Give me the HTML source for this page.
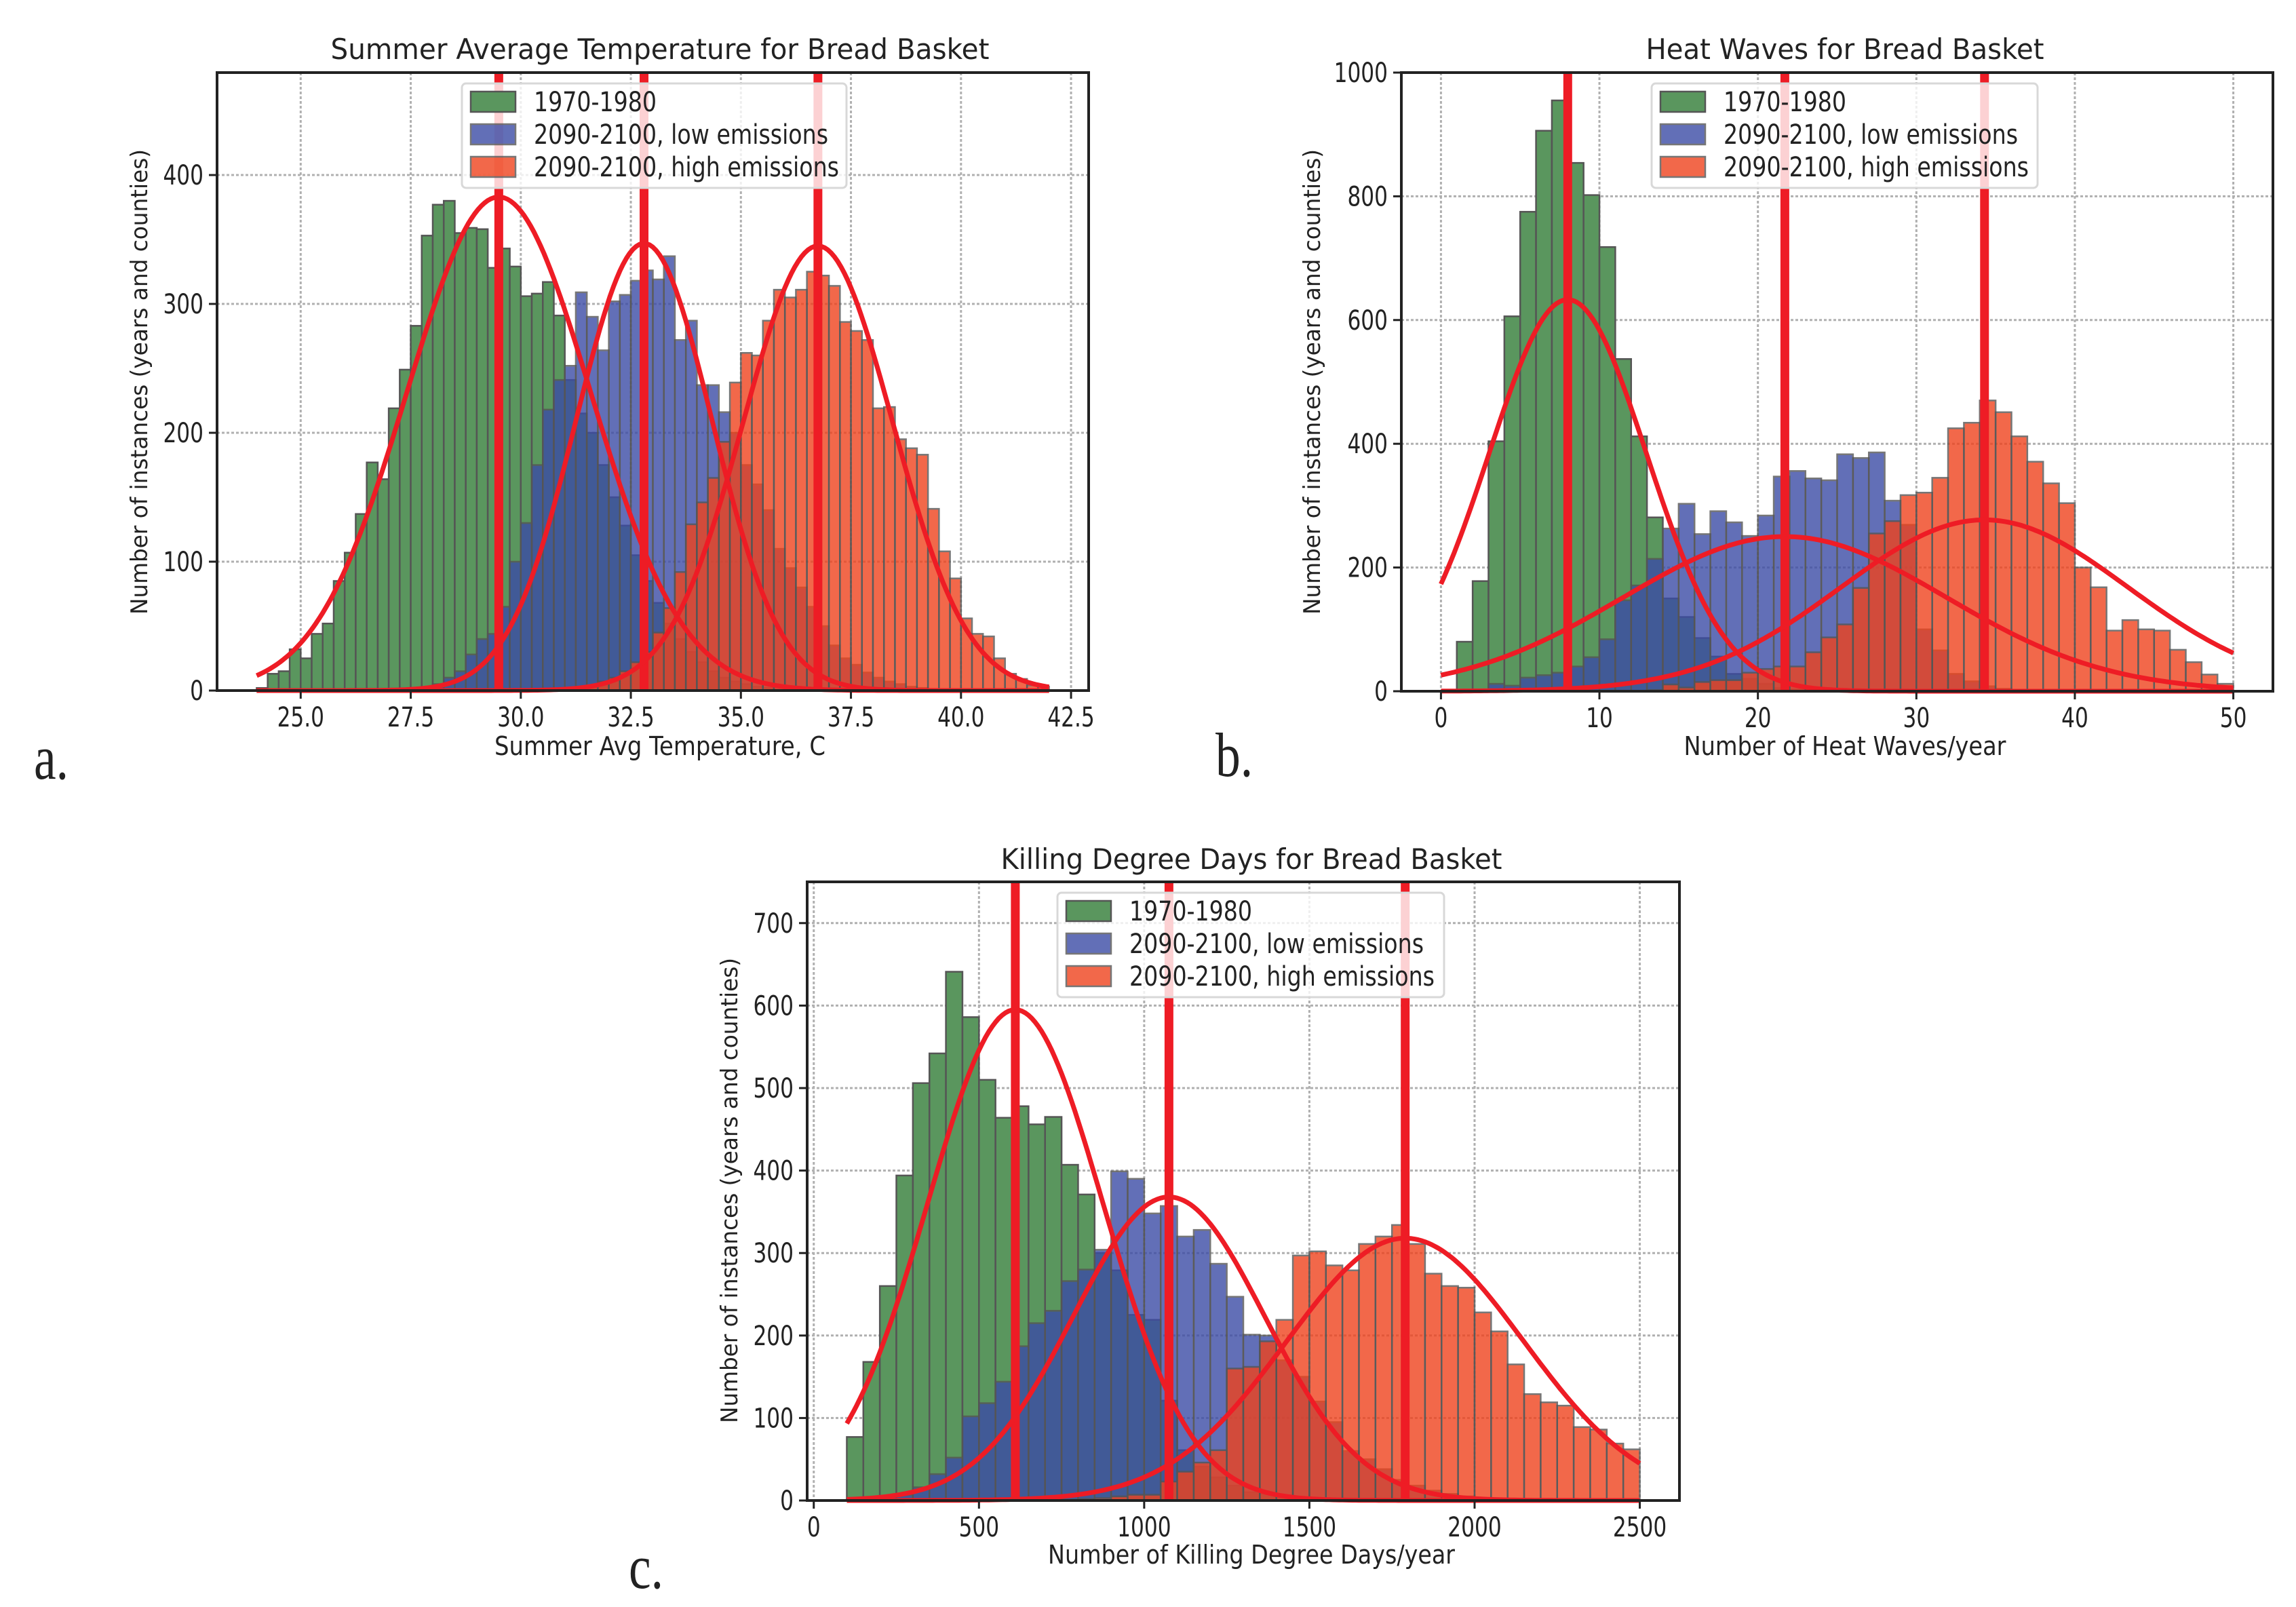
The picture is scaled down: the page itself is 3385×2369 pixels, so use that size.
<!DOCTYPE html>
<html><head><meta charset="utf-8"><title>Bread Basket histograms</title>
<style>
html,body{margin:0;padding:0;background:#fff;}
svg{display:block;}
text{font-family:"DejaVu Sans","Liberation Sans",sans-serif;fill:#222;}
</style></head>
<body>
<svg id="fig" xmlns="http://www.w3.org/2000/svg" width="3385" height="2369" viewBox="0 0 3385 2369">
<rect x="0" y="0" width="3385" height="2369" fill="#fff"/>
</svg>
<script>
// ---------- Panel a: Summer Average Temperature ----------
const aGreen=[2,13,15,32,25,44,52,85,107,137,177,164,219,249,283,353,377,380,355,359,358,328,343,329,306,308,317,291,241,215,200,175,150,128,105,85,68,52,40,30,22,15,10,7,5,3,2,1,0,0,0,0,0,0,0,0,0,0,0,0,0,0,0,0,0,0,0,0,0,0,0,0];
const aBlue=[0,0,0,0,0,0,0,0,0,0,0,0,0,0,0,2,5,10,15,28,40,44,65,100,130,175,218,241,252,309,290,264,302,307,318,326,319,337,272,287,237,237,216,200,175,160,140,110,95,80,65,50,35,25,20,14,10,7,5,3,2,1,0,0,0,0,0,0,0,0,0,0];
const aRed=[0,0,0,0,0,0,0,0,0,0,0,0,0,0,0,0,0,0,0,0,0,0,0,0,0,0,0,0,1,2,4,7,10,15,22,30,45,64,92,129,146,165,193,239,262,260,287,311,305,311,325,322,314,286,279,272,219,220,195,188,183,141,108,87,56,44,42,25,13,9,4,3];
const aFitMeans=[29.5,32.8,36.75];
const aFitSigmas=[2.08,1.54,1.69];
const aFitPeaks=[383,347,345];
const aXTicks=[25,27.5,30,32.5,35,37.5,40,42.5];
const aXTickLabels=["25.0","27.5","30.0","32.5","35.0","37.5","40.0","42.5"];
const aYTicks=[0,100,200,300,400];

// ---------- Panel b: Heat Waves ----------
const bGreen=[0,80,178,404,606,775,906,955,854,802,718,537,412,281,150,120,86,56,28,20,12,5,3,2,1,0,0,0,0,0,0,0,0,0,0,0,0,0,0,0,0,0,0,0,0,0,0,0,0,0];
const bBlue=[0,0,2,12,9,22,26,30,40,55,84,147,171,214,263,303,254,291,273,251,284,347,356,344,341,383,377,386,308,269,100,66,28,16,8,4,2,1,0,0,0,0,0,0,0,0,0,0,0,0];
const bRed=[0,0,0,0,0,0,0,0,0,0,0,0,0,2,11,6,15,18,18,30,36,40,40,63,87,108,167,255,275,317,321,345,425,434,470,451,412,371,336,304,200,168,98,115,100,98,67,47,27,12];
const bFitMeans=[8.0,21.7,34.3];
const bFitSigmas=[4.97,10.2,9.06];
const bFitPeaks=[633,250,277];
const bXTicks=[0,10,20,30,40,50];
const bXTickLabels=["0","10","20","30","40","50"];
const bYTicks=[0,200,400,600,800,1000];

// ---------- Panel c: Killing Degree Days ----------
const cGreen=[77,168,260,394,506,542,641,586,510,464,478,456,465,407,371,300,279,225,219,121,61,41,28,18,10,8,5,3,2,1,0,0,0,0,0,0,0,0,0,0,0,0,0,0,0,0,0,0];
const cBlue=[2,3,5,7,16,32,52,102,118,144,187,215,230,266,280,304,399,390,348,357,320,328,287,247,201,200,170,150,120,95,60,50,38,25,18,12,8,5,3,2,1,0,0,0,0,0,0,0];
const cRed=[0,0,0,0,0,0,0,0,0,0,0,0,0,1,2,3,5,7,7,23,35,46,61,160,162,193,219,297,302,285,279,311,320,334,311,275,260,258,228,205,165,129,119,115,89,86,69,62];
const cFitMeans=[610,1075,1790];
const cFitSigmas=[265,290,359];
const cFitPeaks=[595,368,318];
const cXTicks=[0,500,1000,1500,2000,2500];
const cXTickLabels=["0","500","1000","1500","2000","2500"];
const cYTicks=[0,100,200,300,400,500,600,700];

const legendLabels=["1970-1980","2090-2100, low emissions","2090-2100, high emissions"];
const legendLens=[181,434,450];

const NS="http://www.w3.org/2000/svg";
const svg=document.getElementById('fig');
function mk(tag,attrs,parent){const e=document.createElementNS(NS,tag);for(const k in attrs)e.setAttribute(k,attrs[k]);(parent||svg).appendChild(e);return e;}

const FILL=["#5a965e","rgb(60,76,166)","rgb(239,67,29)"];
const OPAC=[1,0.8,0.8];
const SERIES_NAMES=["1970-1980","low-emissions","high-emissions"];

function panel(cfg){
  const g=mk('g',{});
  
  
  const X=v=>cfg.L+(v-cfg.xmin)/(cfg.xmax-cfg.xmin)*(cfg.R-cfg.L);
  const Y=v=>cfg.B-(v-cfg.ymin)/(cfg.ymax-cfg.ymin)*(cfg.B-cfg.T);
  const grid=mk('g',{},g);
  
  
  cfg.xticks.forEach(t=>{const l=mk('line',{x1:X(t),x2:X(t),y1:cfg.T,y2:cfg.B,stroke:'#b0b0b0','stroke-width':3,'stroke-dasharray':'4 3'},grid);
    
    });
  cfg.yticks.forEach(t=>{const l=mk('line',{x1:cfg.L,x2:cfg.R,y1:Y(t),y2:Y(t),stroke:'#b0b0b0','stroke-width':3,'stroke-dasharray':'4 3'},grid);
    
    });
  cfg.series.forEach((arr,si)=>{
    const sg=mk('g',{},g);
    
    
    arr.forEach((v,k)=>{
      if(v<=0)return;
      const x0=X(cfg.bin0+k*cfg.bw), x1=X(cfg.bin0+(k+1)*cfg.bw);
      const r=mk('rect',{x:x0,y:Y(v),width:x1-x0,height:Y(0)-Y(v),fill:FILL[si],stroke:'#555','stroke-width':2.5,opacity:OPAC[si]},sg);
      
      
    });
  });
  cfg.means.forEach((m,i)=>{
    const l=mk('line',{x1:X(m),x2:X(m),y1:cfg.T,y2:cfg.B,stroke:'#ee1c25','stroke-width':13},g);
    
    
  });
  cfg.means.forEach((m,i)=>{
    let d='';
    const N=240;
    for(let j=0;j<=N;j++){
      const x=cfg.cx0+(cfg.cx1-cfg.cx0)*j/N;
      const y=cfg.peaks[i]*Math.exp(-((x-m)*(x-m))/(2*cfg.sigmas[i]*cfg.sigmas[i]));
      d+=(j?'L':'M')+X(x).toFixed(1)+' '+Y(y).toFixed(1);
    }
    const p=mk('path',{d:d,fill:'none',stroke:'#ee1c25','stroke-width':7,'stroke-linejoin':'round'},g);
    
    
  });
  const sp=mk('rect',{x:cfg.L,y:cfg.T,width:cfg.R-cfg.L,height:cfg.B-cfg.T,fill:'none',stroke:'#222','stroke-width':4},g);
  
  
  cfg.xticks.forEach((t,i)=>{
    const tk=mk('line',{x1:X(t),x2:X(t),y1:cfg.B,y2:cfg.B+12,stroke:'#222','stroke-width':3},g);
    
    
    const tx=mk('text',{transform:`translate(${X(t)},${cfg.B+53}) scale(0.78,1)`,'text-anchor':'middle','font-size':40},g);
    tx.textContent=cfg.xlabels[i];
    
    
  });
  cfg.yticks.forEach(t=>{
    const tk=mk('line',{x1:cfg.L-12,x2:cfg.L,y1:Y(t),y2:Y(t),stroke:'#222','stroke-width':3},g);
    
    
    const tx=mk('text',{transform:`translate(${cfg.L-20},${Y(t)+14}) scale(0.78,1)`,'text-anchor':'end','font-size':40},g);
    tx.textContent=String(t);
    
    
  });
  const lg=mk('g',{},g);
  
  
  mk('rect',{x:cfg.lx,y:cfg.ly,width:cfg.lw,height:cfg.lh,rx:6,fill:'rgba(255,255,255,0.8)',stroke:'#d8d8d8','stroke-width':3},lg);
  legendLabels.forEach((lab,i)=>{
    const ry=cfg.ly+i*48;
    const pr=mk('rect',{x:cfg.lx+13,y:ry+12,width:66,height:30,fill:FILL[i],stroke:'#555','stroke-width':2.5,opacity:OPAC[i]},lg);
    
    
    const tx=mk('text',{x:cfg.lx+106,y:ry+41,'font-size':40,textLength:legendLens[i],lengthAdjust:'spacingAndGlyphs'},lg);
    tx.textContent=lab;
    
    
  });
  const ti=mk('text',{x:cfg.titleX,y:cfg.titleY,'text-anchor':'middle','font-size':42,textLength:cfg.titleLen,lengthAdjust:'spacingAndGlyphs'},g);
  ti.textContent=cfg.title;
  
  
  const xl=mk('text',{x:cfg.titleX,y:cfg.xlY,'text-anchor':'middle','font-size':38,textLength:cfg.xlLen,lengthAdjust:'spacingAndGlyphs'},g);
  xl.textContent=cfg.xlabel;
  
  
  const yl=mk('text',{transform:`translate(${cfg.ylX},${cfg.ylC}) rotate(-90)`,'text-anchor':'middle','font-size':34,textLength:686,lengthAdjust:'spacingAndGlyphs'},g);
  yl.textContent='Number of instances (years and counties)';
  
  
  const pl=mk('text',{transform:`translate(${cfg.plX},${cfg.plY}) scale(0.8,1)`,'font-size':92,style:'font-family:"Liberation Serif",serif'},g);
  pl.textContent=cfg.plabel;
  
  
}

panel({name:'panel-a-temperature',L:320,R:1605,T:107,B:1018,xmin:23.1,xmax:42.9,ymin:0,ymax:479.5,
  series:[aGreen,aBlue,aRed],bin0:24,bw:0.25,means:aFitMeans,sigmas:aFitSigmas,peaks:aFitPeaks,cx0:24,cx1:42,
  xticks:aXTicks,xlabels:aXTickLabels,yticks:aYTicks,lx:681,ly:123,lw:567,lh:154,
  title:'Summer Average Temperature for Bread Basket',titleX:973,titleY:87,titleLen:971,
  xlabel:'Summer Avg Temperature, C',xlY:1113,xlLen:488,ylX:217,ylC:563,plabel:'a.',plX:50,plY:1148});

panel({name:'panel-b-heat-waves',L:2066,R:3351,T:107,B:1019,xmin:-2.5,xmax:52.5,ymin:0,ymax:1000,
  series:[bGreen,bBlue,bRed],bin0:0,bw:1,means:bFitMeans,sigmas:bFitSigmas,peaks:bFitPeaks,cx0:0,cx1:50,
  xticks:bXTicks,xlabels:bXTickLabels,yticks:bYTicks,lx:2435,ly:123,lw:569,lh:154,
  title:'Heat Waves for Bread Basket',titleX:2720,titleY:87,titleLen:587,
  xlabel:'Number of Heat Waves/year',xlY:1113,xlLen:475,ylX:1946,ylC:563,plabel:'b.',plX:1792,plY:1144});

panel({name:'panel-c-killing-degree-days',L:1190,R:2476,T:1300,B:2212,xmin:-20,xmax:2620,ymin:0,ymax:750,
  series:[cGreen,cBlue,cRed],bin0:100,bw:50,means:cFitMeans,sigmas:cFitSigmas,peaks:cFitPeaks,cx0:100,cx1:2500,
  xticks:cXTicks,xlabels:cXTickLabels,yticks:cYTicks,lx:1559,ly:1316,lw:570,lh:154,
  title:'Killing Degree Days for Bread Basket',titleX:1845,titleY:1281,titleLen:739,
  xlabel:'Number of Killing Degree Days/year',xlY:2305,xlLen:600,ylX:1087,ylC:1755,plabel:'c.',plX:927,plY:2341});
</script>
</body></html>
